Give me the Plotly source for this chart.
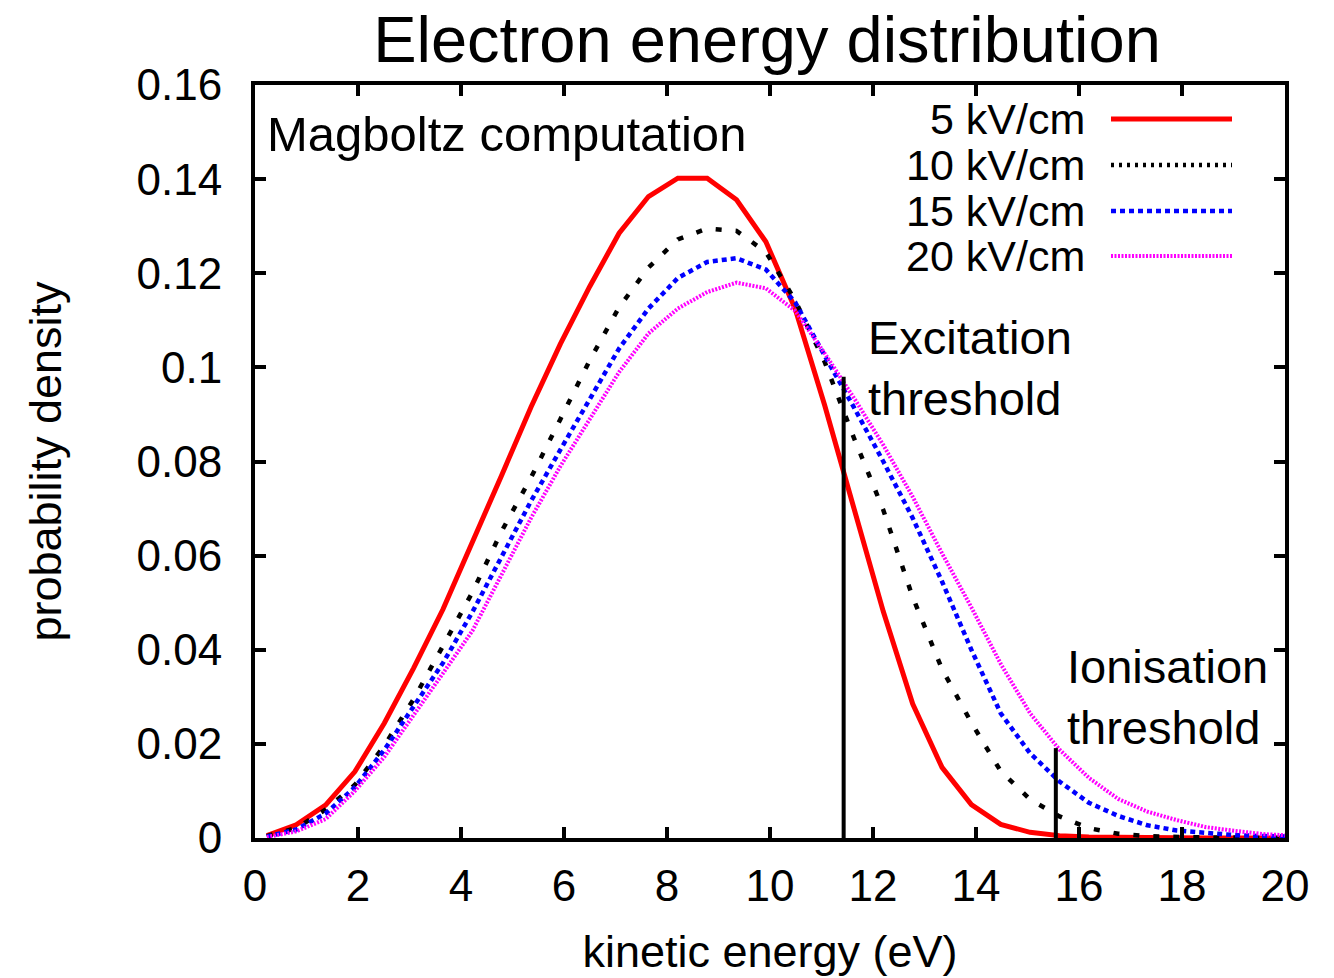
import plotly.graph_objects as go

# ---------------- data ----------------
energy = [0.23, 0.80, 1.37, 1.94, 2.51, 3.08, 3.65, 4.22, 4.79, 5.36, 5.93, 6.50,
          7.07, 7.64, 8.21, 8.78, 9.35, 9.92, 10.49, 11.06, 11.63, 12.20, 12.77,
          13.34, 13.91, 14.48, 15.05, 15.62, 16.19, 16.76, 17.33, 17.90, 18.47,
          19.04, 19.61, 20.18]

pd_5kV = [0.0005, 0.0028, 0.0070, 0.0141, 0.0244, 0.0361, 0.0486, 0.0626, 0.0771,
          0.0916, 0.1050, 0.1172, 0.1285, 0.1363, 0.1402, 0.1402, 0.1356, 0.1267,
          0.1124, 0.0920, 0.0700, 0.0481, 0.0285, 0.0150, 0.0071, 0.0029, 0.0012,
          0.0005, 0.0002, 0.0001, 0.0001, 0.0, 0.0, 0.0, 0.0, 0.0]

pd_10kV = [0.0004, 0.0021, 0.0060, 0.0113, 0.0196, 0.0295, 0.0408, 0.0522, 0.0652,
           0.0766, 0.0890, 0.1015, 0.1128, 0.1212, 0.1272, 0.1295, 0.1290, 0.1245,
           0.1142, 0.1012, 0.0850, 0.0697, 0.0512, 0.0359, 0.0245, 0.0142, 0.0082,
           0.0046, 0.0021, 0.0009, 0.0004, 0.0002, 0.0001, 0.0001, 0.0, 0.0]

pd_15kV = [0.0003, 0.0018, 0.0052, 0.0108, 0.0187, 0.0280, 0.0372, 0.0480, 0.0600,
           0.0716, 0.0825, 0.0932, 0.1040, 0.1125, 0.1190, 0.1224, 0.1232, 0.1208,
           0.1138, 0.1025, 0.0915, 0.0800, 0.0680, 0.0545, 0.0400, 0.0265, 0.0180,
           0.0120, 0.0075, 0.0047, 0.0027, 0.0016, 0.0010, 0.0006, 0.0004, 0.0003]

pd_20kV = [0.0002, 0.0014, 0.0040, 0.0100, 0.0172, 0.0260, 0.0350, 0.0440, 0.0560,
           0.0680, 0.0790, 0.0890, 0.0990, 0.1072, 0.1125, 0.1160, 0.1180, 0.1168,
           0.1120, 0.1030, 0.0935, 0.0835, 0.0725, 0.0605, 0.0490, 0.0370, 0.0265,
           0.0188, 0.0128, 0.0083, 0.0056, 0.0038, 0.0023, 0.0015, 0.0008, 0.0005]

series_names = ["5 kV/cm", "10 kV/cm", "15 kV/cm", "20 kV/cm"]

threshold_energy = [11.43, 15.55]
threshold_height = [0.098, 0.0191]
threshold_labels = ["Excitation<br>threshold", "Ionisation<br>threshold"]

x_tickvals = [0, 2, 4, 6, 8, 10, 12, 14, 16, 18, 20]
y_tickvals = [0, 0.02, 0.04, 0.06, 0.08, 0.1, 0.12, 0.14, 0.16]
y_ticktext = ["0", "0.02", "0.04", "0.06", "0.08", "0.1", "0.12", "0.14", "0.16"]

# ---------------- styles ----------------
FONT = "Liberation Sans, Arial, sans-serif"
styles = [
    dict(color="#ff0000", width=5, dash="solid"),
    dict(color="#000000", width=4.5, dash="6px,14px"),
    dict(color="#0000ff", width=4.5, dash="5px,4px"),
    dict(color="#ff00ff", width=4, dash="2px,1.5px"),
]
legend_dash = ["solid", "3px,5px", "5px,4px", "2px,1.5px"]

fig = go.Figure()
for name, ys, st in zip(series_names, [pd_5kV, pd_10kV, pd_15kV, pd_20kV], styles):
    fig.add_trace(go.Scatter(x=energy, y=ys, mode="lines", name=name,
                             line=st, showlegend=False, cliponaxis=True))

for xe, yh in zip(threshold_energy, threshold_height):
    fig.add_trace(go.Scatter(x=[xe, xe], y=[0, yh], mode="lines",
                             line=dict(color="black", width=4), showlegend=False))

# ---------------- manual legend (text left of sample) ----------------
L, R, T, B = 255, 49, 85, 140
W, H = 1334 - L - R, 978 - T - B
def px(x):
    return (x - L) / W
def py(y):
    return (978 - B - y) / H

legend_rows = [119, 165, 211, 256]
for name, st, dsh, row in zip(series_names, styles, legend_dash, legend_rows):
    fig.add_annotation(x=px(1086), y=py(row), xref="paper", yref="paper",
                       text=name, showarrow=False, xanchor="right", yanchor="middle",
                       borderpad=0,
                       font=dict(size=43, color="black", family=FONT))
    fig.add_shape(type="line", xref="paper", yref="paper",
                  x0=px(1111), x1=px(1232), y0=py(row), y1=py(row),
                  line=dict(color=st["color"], width=st["width"], dash=dsh))

fig.add_annotation(x=px(265), y=py(134), xref="paper", yref="paper",
                   text="Magboltz computation", showarrow=False,
                   xanchor="left", yanchor="middle",
                   font=dict(size=49, color="black", family=FONT))
fig.add_annotation(x=px(866), y=py(368), xref="paper", yref="paper",
                   text=threshold_labels[0], showarrow=False, align="left",
                   xanchor="left", yanchor="middle",
                   font=dict(size=47, color="black", family=FONT))
fig.add_annotation(x=px(1065), y=py(697), xref="paper", yref="paper",
                   text=threshold_labels[1], showarrow=False, align="left",
                   xanchor="left", yanchor="middle",
                   font=dict(size=47, color="black", family=FONT))

axis_common = dict(showline=True, linecolor="black", linewidth=4, mirror="ticks",
                   ticks="inside", ticklen=11, tickwidth=3.5, tickcolor="black",
                   showgrid=False, zeroline=False, automargin=False,
                   tickfont=dict(size=44, color="black", family=FONT))

fig.update_layout(
    width=1334, height=978,
    margin=dict(l=L, r=R, t=T, b=B),
    paper_bgcolor="white", plot_bgcolor="white",
    font=dict(family=FONT, color="black"),
    title=dict(text="Electron energy distribution", x=(767 / 1334), xanchor="center",
               y=1 - 39 / 978, yanchor="middle", xref="container", yref="container",
               font=dict(size=65, color="black", family=FONT), automargin=False),
    xaxis=dict(range=[0, 20], tickvals=x_tickvals, ticklabelstandoff=6,
               title=dict(text="kinetic energy (eV)", standoff=28,
                          font=dict(size=45, color="black", family=FONT)),
               **axis_common),
    yaxis=dict(range=[0, 0.16], tickvals=y_tickvals, ticktext=y_ticktext,
               ticklabelstandoff=20,
               title=dict(text="probability density", standoff=62,
                          font=dict(size=45, color="black", family=FONT)),
               **axis_common),
)

fig.write_html("out.html")
